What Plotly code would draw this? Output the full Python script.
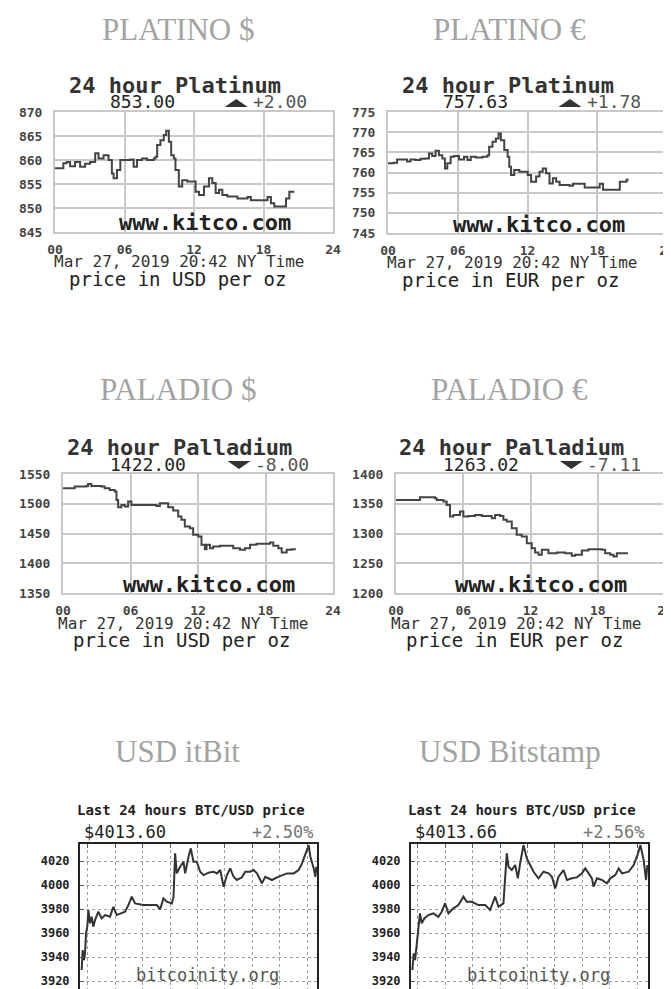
import plotly.graph_objects as go

W, H = 671, 989
OFF = 8  # the page body margin that shifts the figure
MONO = "DejaVu Sans Mono"
SERIF = "Liberation Serif"
GRID = "#c8c8c8"

# ---------------- data ----------------
hour_ticks = [0, 6, 12, 18, 24]
hour_labels = ["00", "06", "12", "18", "24"]

pt_usd_hours = [0, 0.43, 0.72, 1.01, 1.3, 1.73, 2.17, 2.6, 3.03, 3.47, 3.76, 4.19, 4.62, 4.91, 5.06, 5.35, 5.64,
                6.07, 6.5, 6.79, 7.08, 7.51, 7.95, 8.53, 8.67, 8.82, 9.1, 9.39, 9.6, 9.83, 10.03, 10.26, 10.4,
                10.69, 10.98, 11.42, 11.85, 12.14, 12.43, 12.86, 13.29, 13.58, 13.87, 14.16, 14.45, 14.88,
                15.46, 15.75, 16.62, 16.91, 18.06, 18.35, 18.64, 18.93, 19.65, 19.94, 20.23, 20.66]
pt_usd_price = [858.3, 858.3, 859.3, 859.6, 858.7, 859.6, 858.6, 859.2, 859.6, 861.4, 860.3, 861.0, 860.0,
                857.2, 856.2, 857.9, 860.0, 860.0, 860.1, 858.6, 860.0, 860.3, 860.0, 860.3, 860.7, 863.1,
                864.1, 865.2, 866.1, 863.8, 861.0, 860.3, 857.9, 854.5, 855.8, 855.5, 855.5, 853.4, 852.7,
                854.5, 856.2, 855.2, 853.1, 853.8, 852.7, 852.4, 852.4, 852.0, 852.3, 851.6, 851.6, 852.3,
                851.0, 850.3, 850.3, 852.0, 853.4, 853.4]

pt_eur_hours = [0, 0.49, 0.78, 1.21, 1.64, 1.93, 2.36, 2.8, 3.23, 3.52, 3.8, 4.09, 4.38, 4.67, 4.9, 5.1, 5.39,
                5.68, 6.11, 6.54, 6.83, 7.12, 7.55, 8.13, 8.56, 8.7, 8.99, 9.28, 9.51, 9.71, 10.0, 10.29,
                10.43, 10.58, 10.86, 11.3, 11.73, 12.02, 12.31, 12.74, 13.03, 13.31, 13.6, 13.89, 14.18,
                14.47, 14.76, 15.33, 15.62, 15.91, 16.77, 16.92, 17.93, 18.21, 18.5, 19.65, 19.94, 20.52, 20.7]
pt_eur_price = [762.3, 762.4, 763.2, 763.2, 762.7, 763.2, 763.1, 763.4, 763.5, 764.7, 764.1, 765.4, 764.3,
                763.5, 761.0, 762.3, 763.9, 764.1, 763.2, 763.9, 763.1, 763.9, 763.7, 763.9, 764.3, 766.4,
                767.6, 768.4, 769.7, 768.0, 765.6, 763.9, 761.4, 759.4, 760.6, 760.2, 760.2, 759.4, 757.7,
                759.0, 760.2, 761.0, 759.8, 757.3, 758.6, 757.7, 756.9, 756.9, 756.7, 757.2, 757.2, 756.3,
                756.3, 757.2, 755.7, 755.7, 757.7, 758.2, 758.2]

pd_usd_hours = [0, 0.89, 1.04, 2.08, 2.23, 2.52, 3.41, 3.71, 4.15, 4.6, 4.75, 4.9, 5.19, 5.49, 5.79, 6.08,
                6.53, 7.42, 8.01, 8.31, 8.61, 9.05, 9.35, 9.79, 10.24, 10.53, 10.83, 11.28, 11.57, 12.02,
                12.31, 12.61, 12.76, 13.06, 13.35, 13.95, 14.84, 15.13, 15.73, 16.17, 16.62, 17.21, 18.1,
                18.4, 18.69, 19.14, 19.44, 19.88, 20.33, 20.7]
pd_usd_price = [1526.0, 1526.0, 1528.8, 1529.9, 1533.2, 1529.9, 1528.8, 1526.0, 1523.2, 1520.4, 1506.4,
                1494.1, 1498.0, 1495.3, 1503.6, 1498.0, 1498.0, 1498.0, 1498.0, 1496.4, 1500.8, 1500.8,
                1494.1, 1488.5, 1478.5, 1472.9, 1461.7, 1458.9, 1447.8, 1445.0, 1431.0, 1423.7, 1431.0,
                1425.4, 1428.2, 1429.3, 1429.3, 1425.4, 1422.6, 1425.4, 1431.0, 1432.7, 1432.7, 1434.9,
                1429.3, 1425.4, 1418.2, 1422.6, 1423.7, 1423.7]

pd_eur_hours = [0, 1.99, 2.14, 3.48, 3.63, 4.23, 4.52, 4.82, 5.12, 5.71, 6.01, 6.46, 7.05, 7.65, 8.24, 8.54,
                8.84, 9.29, 9.58, 9.88, 10.33, 10.77, 11.22, 11.67, 12.11, 12.41, 12.71, 13.01, 13.6, 14.35,
                15.09, 15.68, 15.98, 16.58, 17.17, 18.07, 18.36, 18.66, 19.11, 19.4, 19.7, 20.45, 20.7]
pd_eur_price = [1356.4, 1356.4, 1360.9, 1359.2, 1356.4, 1353.6, 1348.0, 1328.5, 1331.3, 1336.9, 1328.5,
                1329.6, 1331.3, 1329.6, 1329.6, 1325.7, 1331.3, 1329.6, 1322.9, 1320.1, 1308.9, 1297.8,
                1295.0, 1283.8, 1275.4, 1268.2, 1264.2, 1272.6, 1267.0, 1268.2, 1267.0, 1262.6, 1264.2,
                1271.5, 1273.7, 1273.7, 1272.6, 1267.0, 1264.2, 1261.5, 1267.0, 1267.0, 1267.0]

itbit_hours = [0.17, 0.27, 0.41, 0.51, 0.61, 0.74, 0.85, 1.01, 1.18, 1.35, 1.52, 1.86, 2.2, 2.54, 3.04, 3.38,
               3.72, 4.23, 4.56, 4.9, 5.24, 5.58, 6.42, 7.1, 7.78, 8.11, 8.45, 8.79, 9.3, 9.47, 9.63, 9.8,
               10.14, 10.48, 10.65, 10.99, 11.22, 11.49, 11.83, 12.17, 12.51, 13.02, 13.52, 13.86, 14.2,
               14.54, 14.88, 15.21, 15.55, 15.89, 16.4, 16.73, 17.24, 17.58, 17.92, 18.26, 18.42, 18.76,
               19.1, 19.44, 19.95, 20.45, 20.96, 21.64, 22.14, 22.48, 22.82, 23.16, 23.33, 23.67, 23.83, 23.94]
itbit_price = [3929.2, 3945.8, 3937.5, 3943.1, 3959.7, 3965.3, 3979.2, 3968.1, 3973.6, 3965.3, 3970.8,
               3977.8, 3972.2, 3975.0, 3973.6, 3981.9, 3975.0, 3976.4, 3977.8, 3983.3, 3990.3, 3984.7,
               3983.3, 3983.3, 3983.3, 3979.7, 3988.9, 3986.1, 3984.7, 3990.3, 4026.4, 4009.7, 4015.3,
               4019.4, 4009.7, 4023.6, 4030.6, 4019.4, 4019.4, 4011.1, 4008.3, 4010.3, 4011.1, 4009.7,
               4012.5, 3998.6, 4008.3, 4013.9, 4006.9, 4004.2, 4006.4, 4011.1, 4011.1, 4012.5, 4009.7,
               4004.2, 4001.4, 4006.9, 4005.6, 4004.2, 4006.4, 4008.3, 4009.7, 4009.7, 4012.5, 4018.1,
               4026.4, 4033.3, 4023.6, 4013.9, 4006.9, 4015.3]

bitstamp_hours = [0.14, 0.27, 0.41, 0.57, 0.74, 0.91, 1.08, 1.35, 1.76, 2.27, 2.77, 3.11, 3.45, 3.79, 4.29,
                  4.8, 5.31, 5.65, 6.15, 6.83, 7.51, 8.01, 8.52, 8.86, 9.36, 9.7, 9.87, 10.21, 10.55, 10.82,
                  11.05, 11.39, 11.73, 12.07, 12.41, 12.91, 13.42, 13.93, 14.27, 14.6, 14.94, 15.45, 15.79,
                  16.3, 16.8, 17.31, 17.65, 17.99, 18.32, 18.49, 18.83, 19.34, 19.84, 20.18, 20.69, 21.03,
                  21.37, 22.04, 22.55, 22.99, 23.23, 23.56, 23.8, 23.94]
bitstamp_price = [3929.2, 3943.1, 3937.5, 3951.4, 3962.5, 3976.4, 3968.1, 3972.2, 3975.0, 3976.4, 3973.6,
                  3977.8, 3984.7, 3976.4, 3980.6, 3983.3, 3990.3, 3986.1, 3986.1, 3983.3, 3983.3, 3979.2,
                  3990.3, 3981.9, 3984.7, 4026.4, 4015.3, 4012.5, 4016.7, 4005.6, 4018.1, 4033.3, 4022.2,
                  4016.7, 4011.1, 4005.6, 4011.1, 4009.7, 4006.9, 3997.2, 4006.9, 4012.5, 4004.2, 4005.6,
                  4006.4, 4009.7, 4013.9, 4009.7, 4005.6, 3998.6, 4005.6, 4004.2, 4001.4, 4005.6, 4008.3,
                  4013.9, 4009.7, 4011.1, 4016.7, 4026.4, 4033.3, 4020.8, 4004.2, 4016.7]

btc_ticks = [3920, 3940, 3960, 3980, 4000, 4020]

headers = ["PLATINO $", "PLATINO €", "PALADIO $", "PALADIO €", "USD itBit", "USD Bitstamp"]

kitco_panels = [
    dict(title="24 hour Platinum", price="853.00", up=True, change="+2.00", unit="USD",
         hours=pt_usd_hours, values=pt_usd_price, yrange=[845, 870], dtick=5,
         box=(55, 333, 112, 232)),
    dict(title="24 hour Platinum", price="757.63", up=True, change="+1.78", unit="EUR",
         hours=pt_eur_hours, values=pt_eur_price, yrange=[745, 775], dtick=5,
         box=(388, 667, 112, 233)),
    dict(title="24 hour Palladium", price="1422.00", up=False, change="-8.00", unit="USD",
         hours=pd_usd_hours, values=pd_usd_price, yrange=[1350, 1550], dtick=50,
         box=(63, 333, 474, 593)),
    dict(title="24 hour Palladium", price="1263.02", up=False, change="-7.11", unit="EUR",
         hours=pd_eur_hours, values=pd_eur_price, yrange=[1200, 1400], dtick=50,
         box=(396, 665, 474, 593)),
]

btc_panels = [
    dict(price="$4013.60", change="+2.50%", hours=itbit_hours, values=itbit_price,
         box=(80, 317, 844, 989), grid0=0.8),
    dict(price="$4013.66", change="+2.56%", hours=bitstamp_hours, values=bitstamp_price,
         box=(411, 648, 844, 989), grid0=0.7),
]

# ---------------- figure ----------------
fig = go.Figure()
annotations = []
shapes = []


def px(x):
    return (x - OFF) / W


def py(y):
    return 1 - (y - OFF) / H


def text(x, y, s, size, family=MONO, color="#333", bold=False, xanchor="center"):
    annotations.append(dict(
        x=px(x), y=py(y), xref="paper", yref="paper", text=s, showarrow=False,
        xanchor=xanchor, yanchor="middle",
        font=dict(family=family, size=size, color=color, weight="bold" if bold else "normal"),
    ))


def triangle(cx, top, bottom, half, up):
    if up:
        pts = [(cx - half, bottom), (cx + half, bottom), (cx, top)]
    else:
        pts = [(cx - half, top), (cx + half, top), (cx, bottom)]
    path = "M " + " L ".join(f"{px(a):.5f},{py(b):.5f}" for a, b in pts) + " Z"
    shapes.append(dict(type="path", path=path, xref="paper", yref="paper",
                       fillcolor="#333", line=dict(width=0)))


layout_axes = {}
n = 0
for i, p in enumerate(kitco_panels):
    n += 1
    l, r, t, b = p["box"]
    w = r - l
    sfx = "" if n == 1 else str(n)
    layout_axes["xaxis" + sfx] = dict(
        domain=[px(l), px(r)], range=[0, 24], anchor="y" + sfx, automargin=False,
        tickvals=hour_ticks, ticktext=hour_labels, showgrid=True, gridcolor=GRID, gridwidth=2,
        showline=True, linecolor=GRID, linewidth=2, mirror=True, zeroline=False, ticks="",
        ticklabelstandoff=4,
        tickfont=dict(family=MONO, size=13, color="#444", weight="bold"), fixedrange=True)
    layout_axes["yaxis" + sfx] = dict(
        domain=[py(b), py(t)], range=p["yrange"], anchor="x" + sfx, automargin=False,
        tick0=p["yrange"][0], dtick=p["dtick"], showgrid=True, gridcolor=GRID, gridwidth=2,
        showline=True, linecolor=GRID, linewidth=2, mirror=True, zeroline=False, ticks="",
        ticklabelstandoff=8,
        tickfont=dict(family=MONO, size=13, color="#444", weight="bold"), fixedrange=True)
    fig.add_trace(go.Scatter(
        x=p["hours"], y=p["values"], mode="lines", line=dict(color="#444", width=2, shape="hv"),
        xaxis="x" + sfx, yaxis="y" + sfx, hoverinfo="skip"))

    text(l + w * 0.43, t - 27, p["title"], 22, bold=True, color="#333")
    text(l + w * 0.315, t - 10, p["price"], 18, color="#222")
    triangle(l + w * 0.652, t - 13, t - 5, 11.5, p["up"])
    text(l + w * 0.81, t - 10, p["change"], 18, color="#555")
    text(l + w * 0.54, b - 9, "www.kitco.com", 22, bold=True, color="#222")
    text(l + w * 0.445, b + 30, "Mar 27, 2019 20:42 NY Time", 16, color="#333")
    text(l + w * 0.44, b + 47, f"price in {p['unit']} per oz", 19, color="#222")

for p in btc_panels:
    n += 1
    l, r, t, b = p["box"]
    sfx = str(n)
    layout_axes["xaxis" + sfx] = dict(
        domain=[px(l), px(r)], range=[0, 24], anchor="y" + sfx, side="top", automargin=False,
        tick0=p["grid0"], dtick=2.775, showticklabels=False, showgrid=True, gridcolor="#a0a0a0",
        griddash="3px,3px", gridwidth=1, showline=True, linecolor="#222", linewidth=2,
        ticks="inside", ticklen=4, tickcolor="#555", zeroline=False, fixedrange=True)
    layout_axes["yaxis" + sfx] = dict(
        domain=[py(b), py(t)], range=[3913.4, 4034.2], anchor="x" + sfx, automargin=False,
        tickvals=btc_ticks, showgrid=True, gridcolor="#a0a0a0", griddash="3px,3px", gridwidth=1,
        showline=True, linecolor="#222", linewidth=2, mirror=True, ticks="inside", ticklen=4,
        tickcolor="#555", zeroline=False, ticklabelstandoff=6,
        tickfont=dict(family=MONO, size=12, color="#222", weight="bold"), fixedrange=True)
    fig.add_trace(go.Scatter(
        x=p["hours"], y=p["values"], mode="lines", line=dict(color="#333", width=2),
        xaxis="x" + sfx, yaxis="y" + sfx, hoverinfo="skip"))
    cx = (l + r) / 2
    text(cx - 8, 810, "Last 24 hours BTC/USD price", 14, bold=True, color="#222")
    text(l + 2, 832, p["price"], 17, color="#222", xanchor="left")
    text(r - 2, 832, p["change"], 17, color="#777", xanchor="right")
    text(l + (r - l) * 0.54, 975, "bitcoinity.org", 17, color="#555")

# headers
header_pos = [(178, 29), (510, 29), (178, 390), (510, 390), (177, 751), (510, 751)]
for h, (x, y) in zip(headers, header_pos):
    text(x, y, h, 31, family=SERIF, color="#a3a3a3")

fig.update_layout(
    width=W, height=H, margin=dict(l=0, r=0, t=0, b=0, autoexpand=False),
    paper_bgcolor="white", plot_bgcolor="white", showlegend=False,
    annotations=annotations, shapes=shapes, **layout_axes)

fig.write_html("out.html")
